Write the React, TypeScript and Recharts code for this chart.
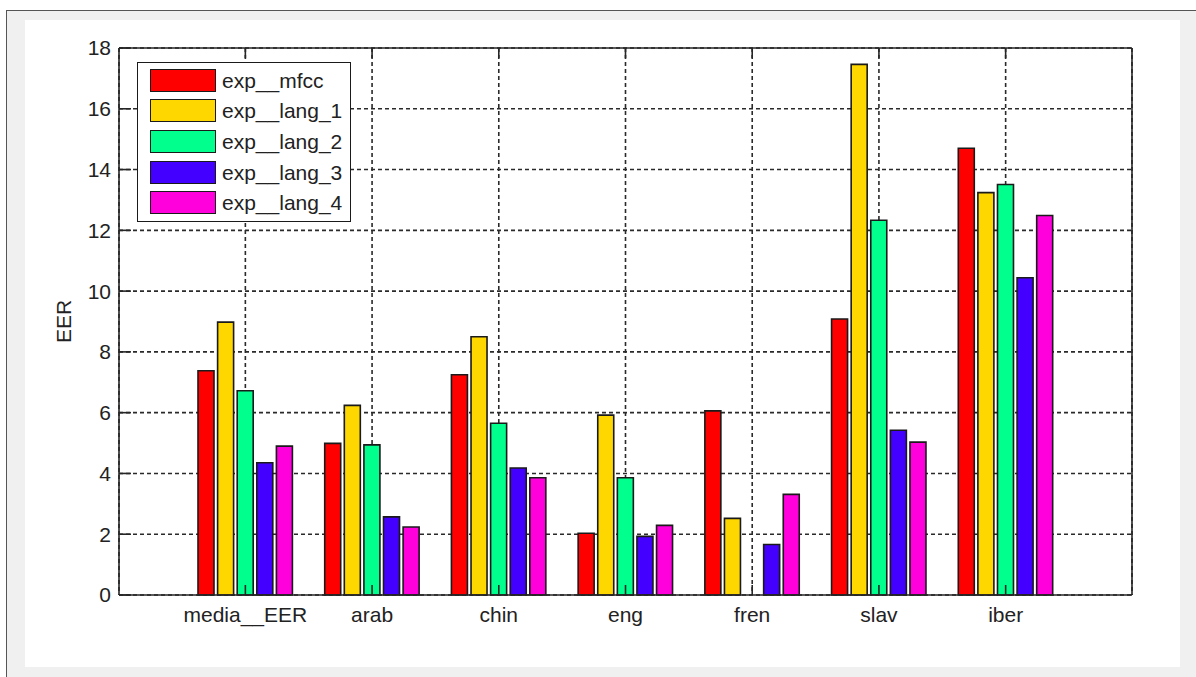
import React from 'react';
import { BarChart, Bar, XAxis, YAxis, CartesianGrid, Legend } from 'recharts';

// EER per language group for each experiment
const categories = ['media__EER', 'arab', 'chin', 'eng', 'fren', 'slav', 'iber'];
const expMfcc = [7.38, 4.99, 7.25, 2.03, 6.06, 9.08, 14.7];
const expLang1 = [8.98, 6.24, 8.5, 5.92, 2.52, 17.46, 13.24];
const expLang2 = [6.72, 4.94, 5.65, 3.86, 0, 12.33, 13.51];
const expLang3 = [4.35, 2.57, 4.18, 1.93, 1.66, 5.42, 10.44];
const expLang4 = [4.9, 2.24, 3.86, 2.29, 3.31, 5.03, 12.49];
const yTicks = [0, 2, 4, 6, 8, 10, 12, 14, 16, 18];

const seriesNames = ['exp__mfcc', 'exp__lang_1', 'exp__lang_2', 'exp__lang_3', 'exp__lang_4'];
const seriesValues = [expMfcc, expLang1, expLang2, expLang3, expLang4];
const seriesColors = ['#ff0000', '#ffd700', '#00ff8c', '#4400ff', '#ff00dd'];

const data = categories.map((name, i) => {
  const row: Record<string, string | number> = { name };
  seriesNames.forEach((s, k) => {
    row[s] = seriesValues[k][i];
  });
  return row;
});

const FONT = '"Liberation Sans", Arial, sans-serif';
const TEXT = '#222';
const AXIS = '#262626';

// Legend entries kept in series order
const LegendBox = (props: any) => {
  const given = props.payload && props.payload.length ? props.payload : [];
  const entries = seriesNames.map((n, i) => {
    const hit = given.find((p: any) => p.value === n || p.dataKey === n);
    return { value: n, color: hit && hit.color ? hit.color : seriesColors[i] };
  });
  return (
    <div
      style={{
        boxSizing: 'border-box',
        width: 214,
        height: 160,
        border: '1.5px solid #1a1a1a',
        background: '#fff',
        paddingTop: 2,
        fontFamily: FONT,
        fontSize: 21,
        color: TEXT,
      }}
    >
      {entries.map((p, i) => (
        <div key={i} style={{ display: 'flex', alignItems: 'center', height: 30.6 }}>
          <div
            style={{
              boxSizing: 'border-box',
              marginLeft: 12,
              width: 66,
              height: 23,
              background: p.color,
              border: '1.5px solid #1a1a1a',
            }}
          />
          <span style={{ marginLeft: 6, lineHeight: '23px' }}>{p.value}</span>
        </div>
      ))}
    </div>
  );
};

const EerLabel = (props: any) => {
  const vb = props.viewBox || { x: 0, y: 0, width: 0, height: 0 };
  const cx = vb.x + 4;
  const cy = vb.y + vb.height / 2;
  return (
    <text
      x={cx}
      y={cy}
      transform={`rotate(-90 ${cx} ${cy})`}
      textAnchor="middle"
      dominantBaseline="central"
      fontFamily={FONT}
      fontSize={21}
      fill={TEXT}
    >
      EER
    </text>
  );
};

const Empty = () => <g />;

export default function App() {
  return (
    <div
      style={{
        position: 'absolute',
        left: 0,
        top: 0,
        width: 1196,
        height: 677,
        overflow: 'hidden',
        background: '#fff',
      }}
    >
      <div
        style={{
          position: 'absolute',
          left: 6,
          top: 10,
          width: 1260,
          height: 720,
          background: '#f0f0f0',
          border: '1px solid #555',
        }}
      />
      <div
        style={{
          position: 'absolute',
          left: 25,
          top: 20,
          width: 1155,
          height: 647,
          background: '#fff',
        }}
      />
      <div style={{ position: 'absolute', left: 0, top: 0 }}>
        <BarChart
          width={1196}
          height={677}
          data={data}
          margin={{ top: 47, right: 63, bottom: 42, left: 59 }}
          barSize={16}
          barGap={3.6}
        >
          <CartesianGrid
            stroke="#2a2a2a"
            strokeWidth={1.6}
            strokeDasharray="4 3"
          />
          <XAxis
            dataKey="name"
            padding={{ left: 63, right: 63 }}
            height={40}
            tickSize={-10}
            tickMargin={22}
            interval={0}
            axisLine={{ stroke: AXIS, strokeWidth: 1.6 }}
            tickLine={{ stroke: AXIS, strokeWidth: 1.6 }}
            tick={{ fill: TEXT, fontFamily: FONT, fontSize: 21 }}
          />
          <XAxis
            xAxisId="top"
            orientation="top"
            dataKey="name"
            padding={{ left: 63, right: 63 }}
            height={1}
            tickSize={-10}
            interval={0}
            axisLine={{ stroke: AXIS, strokeWidth: 1.6 }}
            tickLine={{ stroke: AXIS, strokeWidth: 1.6 }}
            tick={Empty}
          />
          <YAxis
            domain={[0, 18]}
            ticks={yTicks}
            width={60}
            tickSize={-12}
            tickMargin={20}
            axisLine={{ stroke: AXIS, strokeWidth: 1.6 }}
            tickLine={{ stroke: AXIS, strokeWidth: 1.6 }}
            tick={{ fill: TEXT, fontFamily: FONT, fontSize: 21 }}
            label={<EerLabel />}
          />
          <YAxis
            yAxisId="right"
            orientation="right"
            domain={[0, 18]}
            ticks={yTicks}
            width={1}
            tickSize={-12}
            axisLine={{ stroke: AXIS, strokeWidth: 1.6 }}
            tickLine={{ stroke: AXIS, strokeWidth: 1.6 }}
            tick={Empty}
          />
          <Legend
            layout="horizontal"
            verticalAlign="middle"
            align="center"
            content={<LegendBox />}
            wrapperStyle={{ position: 'absolute', left: 137, top: 62, width: 214, height: 160 }}
          />
          {seriesNames.map((s, k) => (
            <Bar
              key={s}
              dataKey={s}
              name={s}
              fill={seriesColors[k]}
              stroke="#1a1a1a"
              strokeWidth={1.6}
              isAnimationActive={false}
            />
          ))}
        </BarChart>
      </div>
    </div>
  );
}
